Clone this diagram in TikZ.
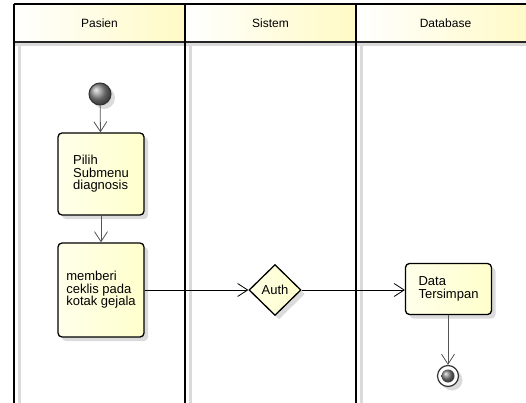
\documentclass[tikz,border=0pt]{standalone}
\usepackage{fontspec}
\setmainfont{Liberation Sans}
\usetikzlibrary{positioning,arrows.meta,shapes.geometric,shadows}
\definecolor{kuning}{HTML}{FFFFCC}
\definecolor{kepala}{HTML}{FFFAC4}
\definecolor{garis}{HTML}{555555}
\definecolor{bayang}{HTML}{DADADA}

\begin{document}
\begin{tikzpicture}[x=1pt, y=-1pt, font=\fontsize{12}{12}\selectfont,
  bayangan/.style={drop shadow={shadow xshift=4pt, shadow yshift=-4pt, fill=black!14, opacity=1}},
  aksi/.style={draw, line width=1.3pt, rounded corners=4pt, left color=kuning!40!white, right color=kuning,
    bayangan, align=left, minimum width=86pt, inner sep=0pt,
    font=\fontsize{13}{12.5}\selectfont},
  putusan/.style={diamond, draw, line width=1.3pt, left color=kuning!50!white, right color=kuning,
    bayangan, minimum width=52pt, minimum height=51pt, inner sep=0pt, font=\fontsize{13}{12.5}\selectfont},
  awal/.style={circle, draw=black!80, line width=1pt, ball color=black!45, bayangan, minimum size=22pt, inner sep=0pt},
  panah/.style={-{Straight Barb[length=10pt, width=13pt]}, line width=0.8pt}]
  \useasboundingbox (0,0) rectangle (526,403);
  \clip (0,0) rectangle (526,403);

  % lajur
  \foreach \xa/\xb/\nama in {14/185/Pasien, 185/356/Sistem, 356/535/Database}{
    \shade[left color=white, right color=kepala] (\xa,4) rectangle (\xb,42);
    \node (judul-\nama) at ({(\xa+\xb)/2},23) {\nama};
  }
  \fill[bayang] (14,42) rectangle (535,46);
  \draw[line width=1.3pt] (14,4) -- (535,4);
  \draw[line width=1.5pt, black!85] (14,42) -- (535,42);
  \foreach \x in {14,185,356}{
    \fill[bayang] (\x+4,46) rectangle (\x+7,403);
    \draw[line width=2pt] (\x,4) -- (\x,403);
  }

  \node[awal] (mulai) at (100,94) {};
  \node[aksi, minimum height=82pt] (pilih) at (101,174) {Pilih\\Submenu\\diagnosis};
  \node[aksi, minimum height=94pt] (beri) at (101,290) {memberi\\ceklis pada\\kotak gejala};
  \node[putusan] (auth) at (275,290) {Auth};
  \node[aksi, minimum height=51pt] (simpan) at (448.5,289) {Data\\Tersimpan};
  \node[circle, draw=black!80, line width=1.2pt, fill=white, bayangan, minimum size=21pt, inner sep=0pt] (akhir) at (448,376) {};
  \node[circle, ball color=black!50, minimum size=13pt, inner sep=0pt] (akhir-isi) at (akhir) {};

  \draw[panah, garis] (mulai) -- (pilih);
  \draw[panah, garis] (pilih) -- (beri);
  \draw[panah] (beri.east |- auth.west) -- (auth.west);
  \draw[panah] (auth.east) -- (auth.east -| simpan.west);
  \draw[panah, garis] (simpan.south -| akhir) -- (akhir);
\end{tikzpicture}
\end{document}
